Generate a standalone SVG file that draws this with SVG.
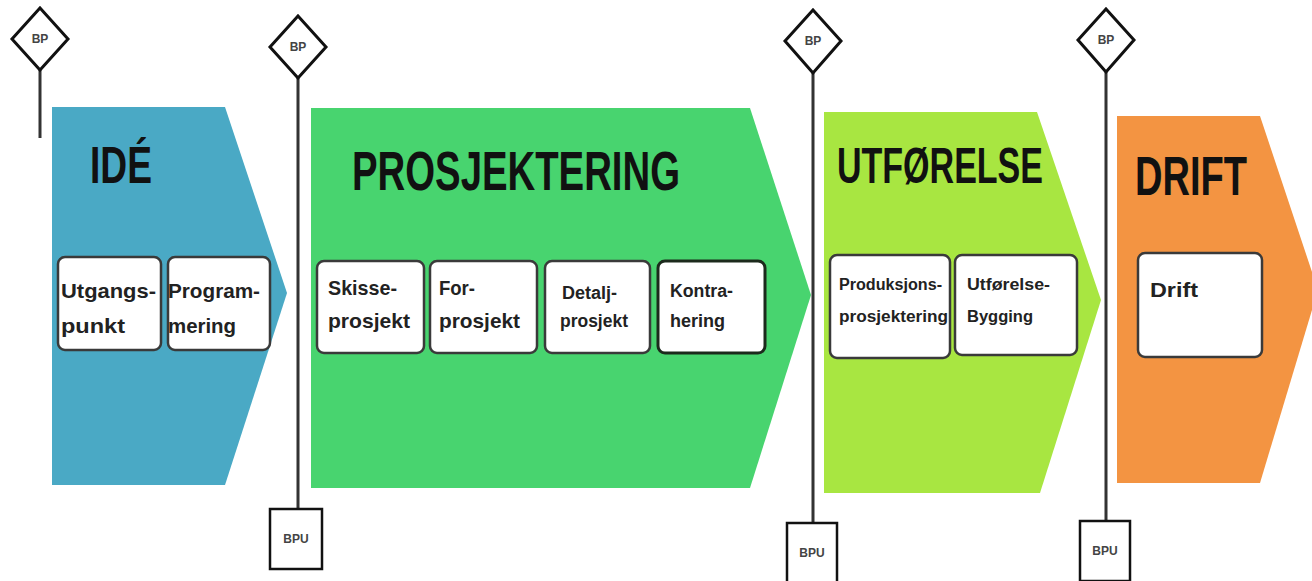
<svg xmlns="http://www.w3.org/2000/svg" width="1312" height="581" viewBox="0 0 1312 581">
<style>
.title{font-family:"Liberation Sans",Arial,sans-serif;font-weight:bold;fill:#111;}
.lbl{font-family:"Liberation Sans",Arial,sans-serif;font-weight:bold;fill:#222;}
.box{fill:#fff;stroke:#3a3a3a;stroke-width:2.5;}
.dia{fill:#fff;stroke:#111;stroke-width:3;}
.bpu{fill:#fff;stroke:#111;stroke-width:2.5;}
.tag{font-family:"Liberation Sans",Arial,sans-serif;font-size:12px;font-weight:bold;fill:#444;text-anchor:middle;}
.pole{stroke:#333;stroke-width:3;fill:none;}
</style>
<rect width="1312" height="581" fill="#fff"/>
<g id="connectors">
<line class="pole" x1="40" y1="70" x2="40" y2="138"/>
<line class="pole" x1="298" y1="78" x2="298" y2="509"/>
<line class="pole" x1="813" y1="73" x2="813" y2="523"/>
<line class="pole" x1="1106" y1="72" x2="1106" y2="521"/>
</g>
<g id="ide">
<polygon points="52,107 225,107 287,293 225,485 52,485" fill="#4aa9c5"/>
<text class="title" x="90" y="183" font-size="52" textLength="62" lengthAdjust="spacingAndGlyphs">IDÉ</text>
</g>
<g id="utgangspunkt">
<rect class="box" x="58" y="257" width="103" height="93" rx="7"/>
<text class="lbl" x="61" y="298" font-size="21" textLength="95" lengthAdjust="spacingAndGlyphs">Utgangs-</text>
<text class="lbl" x="61" y="333" font-size="21" textLength="64" lengthAdjust="spacingAndGlyphs">punkt</text>
</g>
<g id="programmering">
<rect class="box" x="168" y="257" width="102" height="93" rx="7"/>
<text class="lbl" x="168" y="298" font-size="21" textLength="92" lengthAdjust="spacingAndGlyphs">Program-</text>
<text class="lbl" x="168" y="333" font-size="21" textLength="68" lengthAdjust="spacingAndGlyphs">mering</text>
</g>
<g id="prosjektering">
<polygon points="311,108 750,108 811,295 750,488 311,488" fill="#48d46f"/>
<text class="title" x="352" y="190" font-size="55" textLength="328" lengthAdjust="spacingAndGlyphs">PROSJEKTERING</text>
</g>
<g id="skisseprosjekt">
<rect class="box" x="317" y="261" width="107" height="92" rx="7"/>
<text class="lbl" x="328" y="295" font-size="21" textLength="69" lengthAdjust="spacingAndGlyphs">Skisse-</text>
<text class="lbl" x="328" y="328" font-size="21" textLength="82" lengthAdjust="spacingAndGlyphs">prosjekt</text>
</g>
<g id="forprosjekt">
<rect class="box" x="430" y="261" width="107" height="92" rx="7"/>
<text class="lbl" x="439" y="295" font-size="21" textLength="36" lengthAdjust="spacingAndGlyphs">For-</text>
<text class="lbl" x="439" y="328" font-size="21" textLength="81" lengthAdjust="spacingAndGlyphs">prosjekt</text>
</g>
<g id="detaljprosjekt">
<rect class="box" x="545" y="261" width="105" height="92" rx="7"/>
<text class="lbl" x="562" y="299" font-size="18" textLength="55" lengthAdjust="spacingAndGlyphs">Detalj-</text>
<text class="lbl" x="560" y="327" font-size="18" textLength="68" lengthAdjust="spacingAndGlyphs">prosjekt</text>
</g>
<g id="kontrahering">
<rect class="box" x="658" y="261" width="107" height="92" rx="7" style="stroke:#1c2a1c;stroke-width:3"/>
<text class="lbl" x="670" y="297" font-size="18" textLength="63" lengthAdjust="spacingAndGlyphs">Kontra-</text>
<text class="lbl" x="670" y="327" font-size="18" textLength="55" lengthAdjust="spacingAndGlyphs">hering</text>
</g>
<g id="utforelse">
<polygon points="824,112 1037,112 1101,300 1040,493 824,493" fill="#a8e641"/>
<text class="title" x="837" y="183" font-size="50" textLength="206" lengthAdjust="spacingAndGlyphs">UTFØRELSE</text>
</g>
<g id="produksjonsprosjektering">
<rect class="box" x="830" y="255" width="120" height="103" rx="7"/>
<text class="lbl" x="839" y="290" font-size="16" textLength="103" lengthAdjust="spacingAndGlyphs">Produksjons-</text>
<text class="lbl" x="839" y="322" font-size="16" textLength="109" lengthAdjust="spacingAndGlyphs">prosjektering</text>
</g>
<g id="utforelse-bygging">
<rect class="box" x="955" y="255" width="122" height="100" rx="7"/>
<text class="lbl" x="967" y="290" font-size="16" textLength="83" lengthAdjust="spacingAndGlyphs">Utførelse-</text>
<text class="lbl" x="967" y="322" font-size="16" textLength="66" lengthAdjust="spacingAndGlyphs">Bygging</text>
</g>
<g id="drift">
<polygon points="1117,116 1260,116 1318,290 1260,483 1117,483" fill="#f39442"/>
<text class="title" x="1135" y="195" font-size="55" textLength="112" lengthAdjust="spacingAndGlyphs">DRIFT</text>
</g>
<g id="drift-box">
<rect class="box" x="1138" y="253" width="124" height="104" rx="7"/>
<text class="lbl" x="1150" y="297" font-size="20" textLength="48" lengthAdjust="spacingAndGlyphs">Drift</text>
</g>
<g id="bp1"><polygon class="dia" points="40,8 68,39 40,70 12,39"/><text class="tag" x="40" y="43">BP</text></g>
<g id="bp2"><polygon class="dia" points="298,16 326,47 298,78 270,47"/><text class="tag" x="298" y="51">BP</text></g>
<g id="bp3"><polygon class="dia" points="813,10 841,41 813,73 785,41"/><text class="tag" x="813" y="45">BP</text></g>
<g id="bp4"><polygon class="dia" points="1106,9 1134,40 1106,72 1078,40"/><text class="tag" x="1106" y="44">BP</text></g>
<g id="bpu1"><rect class="bpu" x="270" y="509" width="52" height="60"/><text class="tag" x="296" y="543">BPU</text></g>
<g id="bpu2"><rect class="bpu" x="787" y="523" width="50" height="60"/><text class="tag" x="812" y="557">BPU</text></g>
<g id="bpu3"><rect class="bpu" x="1080" y="521" width="50" height="60"/><text class="tag" x="1105" y="555">BPU</text></g>
</svg>
